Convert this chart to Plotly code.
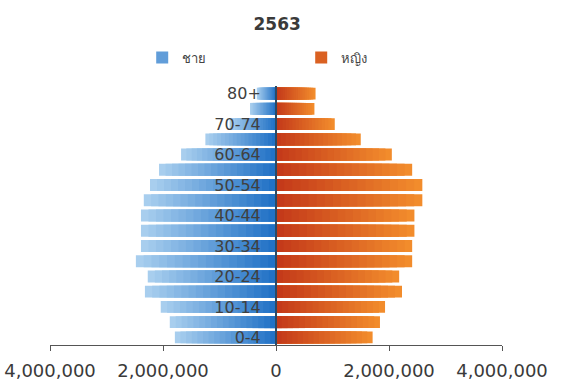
import plotly.graph_objects as go

# Population of Thailand by five-year age group, year 2563 (B.E.)
ages = ["0-4", "5-9", "10-14", "15-19", "20-24", "25-29", "30-34", "35-39",
        "40-44", "45-49", "50-54", "55-59", "60-64", "65-69", "70-74", "75-79", "80+"]
male = [1790000, 1880000, 2040000, 2320000, 2270000, 2480000, 2390000, 2390000,
        2390000, 2340000, 2230000, 2070000, 1680000, 1250000, 820000, 460000, 340000]
female = [1710000, 1840000, 1930000, 2230000, 2180000, 2410000, 2410000, 2450000,
          2450000, 2590000, 2590000, 2410000, 2050000, 1500000, 1040000, 680000, 700000]
shown_age_labels = ages[::2]
x_ticks = [-4000000, -2000000, 0, 2000000, 4000000]
x_tick_text = ["4,000,000", "2,000,000", "0", "2,000,000", "4,000,000"]
title_text = "2563"
male_name = "ชาย"
female_name = "หญิง"


def mix(c1, c2, t):
    r = [round(a + (b - a) * t) for a, b in zip(c1, c2)]
    return "rgb({},{},{})".format(*r)


# Each side is built from stacked overlay layers so that the bars fade
# from a deep tone at the centre to a light tone at the outer end.
LAYERS = 18
blue_outer, blue_inner = (168, 206, 238), (34, 114, 198)
orange_outer, orange_inner = (242, 140, 44), (196, 58, 26)

fig = go.Figure()
for k in range(LAYERS):
    frac = 1 - k / LAYERS
    t = k / (LAYERS - 1)
    fig.add_trace(go.Bar(
        y=ages, x=[-v * frac for v in male], orientation="h",
        marker=dict(color=mix(blue_outer, blue_inner, t), line=dict(width=0)),
        name=male_name, legendgroup="m", showlegend=(k == LAYERS // 2),
        hoverinfo="skip",
    ))
for k in range(LAYERS):
    frac = 1 - k / LAYERS
    t = k / (LAYERS - 1)
    fig.add_trace(go.Bar(
        y=ages, x=[v * frac for v in female], orientation="h",
        marker=dict(color=mix(orange_outer, orange_inner, t), line=dict(width=0)),
        name=female_name, legendgroup="f", showlegend=(k == LAYERS // 2),
        hoverinfo="skip",
    ))

fig.update_layout(
    width=561, height=383,
    margin=dict(l=50, r=59, t=86, b=38),
    paper_bgcolor="white", plot_bgcolor="white",
    barmode="overlay", bargap=0.22,
    font=dict(family="DejaVu Sans", color="#444444"),
    title=dict(text=title_text, x=0.494, xref="container", xanchor="center",
               y=1 - 24 / 383, yref="container", yanchor="middle",
               font=dict(size=17, color="#3a3a3a", weight="bold")),
    legend=dict(orientation="h", x=0.204, xanchor="left", y=1.11, yanchor="middle",
                entrywidth=114, entrywidthmode="pixels",
                font=dict(size=13, color="#444444"), bgcolor="rgba(0,0,0,0)",
                itemclick=False, itemdoubleclick=False),
    showlegend=True,
)
fig.update_xaxes(
    range=[-4000000, 4000000], tickvals=x_ticks, ticktext=x_tick_text,
    showgrid=False, zeroline=False, showline=True, linecolor="#555555", linewidth=1,
    ticks="outside", ticklen=5, tickcolor="#555555", ticklabelstandoff=4,
    tickfont=dict(size=18, color="#3a3a3a"), automargin=False,
)
fig.update_yaxes(
    type="category", categoryorder="array", categoryarray=ages,
    tickvals=shown_age_labels, anchor="free", position=0.5,
    showgrid=False, zeroline=False, showline=True, linecolor="#2b4a66", linewidth=2,
    ticks="", ticklabelstandoff=11, automargin=False,
    tickfont=dict(size=16, color="#404040"),
)

fig.write_html("out.html")
